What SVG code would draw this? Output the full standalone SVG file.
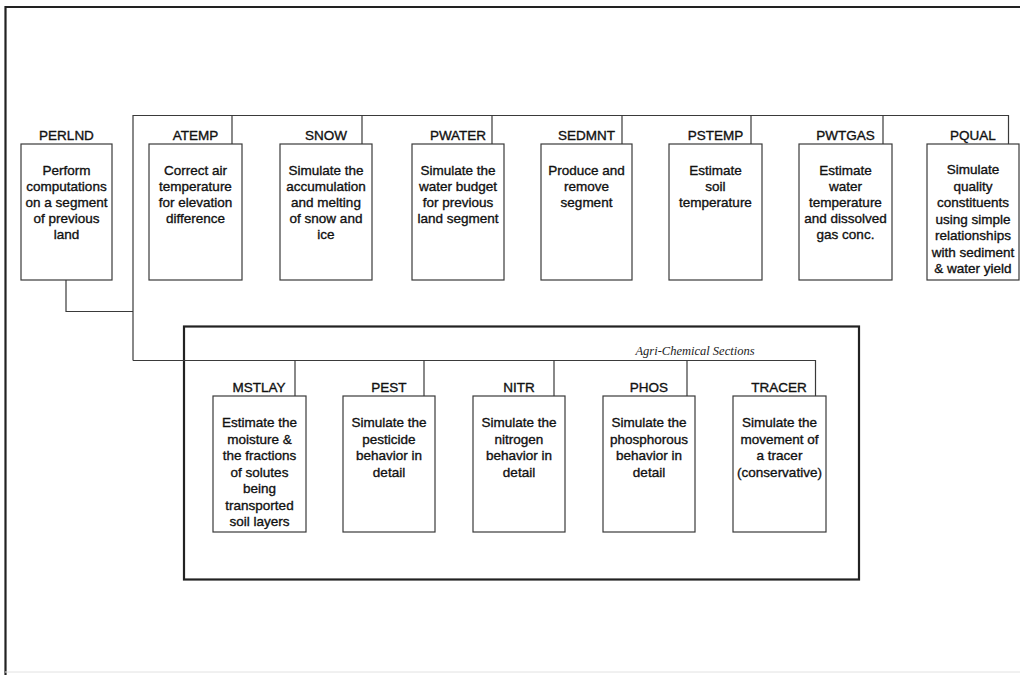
<svg xmlns="http://www.w3.org/2000/svg" width="1020" height="675" viewBox="0 0 1020 675">
  <style>
    .box { fill: #ffffff; stroke: #3a3a3a; stroke-width: 1.2; }
    .wire { fill: none; stroke: #3a3a3a; stroke-width: 1.2; }
    .frame { fill: none; stroke: #222222; stroke-width: 2.2; }
    .title { font-family: "Liberation Sans", Arial, sans-serif; font-size: 13.5px; fill: #111; stroke: #111; stroke-width: 0.35; text-anchor: middle; }
    .body { font-family: "Liberation Sans", Arial, sans-serif; font-size: 13.5px; fill: #111; stroke: #111; stroke-width: 0.35; text-anchor: middle; }
    .caption { font-family: "Liberation Serif", "Times New Roman", serif; font-style: italic; font-size: 12.5px; fill: #222; text-anchor: middle; }
  </style>

  <rect width="1020" height="675" fill="#ffffff"/>

  <!-- outer page frame -->
  <path class="frame" d="M1020 7 H5.5 V675"/>
  <line x1="5" y1="672" x2="1020" y2="672" stroke="#e2e2e2" stroke-width="1"/>

  <!-- agri-chemical sections frame -->
  <rect class="frame" x="184" y="326.5" width="675" height="253"/>
  <text class="caption" x="695" y="355">Agri-Chemical Sections</text>

  <!-- connectors -->
  <g id="connectors">
    <!-- main bus -->
    <path class="wire" d="M133 360.5 V115.5 H1008.5 V144"/>
    <path class="wire" d="M232 115.5 V144"/>
    <path class="wire" d="M362 115.5 V144"/>
    <path class="wire" d="M492 115.5 V144"/>
    <path class="wire" d="M622 115.5 V144"/>
    <path class="wire" d="M751 115.5 V144"/>
    <path class="wire" d="M883 115.5 V144"/>
    <!-- PERLND link -->
    <path class="wire" d="M66 280 V311.5 H133"/>
    <!-- agri-chemical bus -->
    <path class="wire" d="M133 360.5 H815.5 V396"/>
    <path class="wire" d="M295 360.5 V396"/>
    <path class="wire" d="M424 360.5 V396"/>
    <path class="wire" d="M554 360.5 V396"/>
    <path class="wire" d="M687 360.5 V396"/>
  </g>

  <g id="PERLND">
    <text class="title" x="66.5" y="140">PERLND</text>
    <rect class="box" x="21" y="144" width="91" height="136"/>
    <text class="body" x="66.5" y="175">Perform</text>
    <text class="body" x="66.5" y="191">computations</text>
    <text class="body" x="66.5" y="207">on a segment</text>
    <text class="body" x="66.5" y="223">of previous</text>
    <text class="body" x="66.5" y="239">land</text>
  </g>

  <g id="ATEMP">
    <text class="title" x="195.5" y="140">ATEMP</text>
    <rect class="box" x="149" y="144" width="93" height="136"/>
    <text class="body" x="195.5" y="175">Correct air</text>
    <text class="body" x="195.5" y="191">temperature</text>
    <text class="body" x="195.5" y="207">for elevation</text>
    <text class="body" x="195.5" y="223">difference</text>
  </g>

  <g id="SNOW">
    <text class="title" x="326" y="140">SNOW</text>
    <rect class="box" x="280" y="144" width="92" height="136"/>
    <text class="body" x="326" y="175">Simulate the</text>
    <text class="body" x="326" y="191">accumulation</text>
    <text class="body" x="326" y="207">and melting</text>
    <text class="body" x="326" y="223">of snow and</text>
    <text class="body" x="326" y="239">ice</text>
  </g>

  <g id="PWATER">
    <text class="title" x="458" y="140">PWATER</text>
    <rect class="box" x="412" y="144" width="92" height="136"/>
    <text class="body" x="458" y="175">Simulate the</text>
    <text class="body" x="458" y="191">water budget</text>
    <text class="body" x="458" y="207">for previous</text>
    <text class="body" x="458" y="223">land segment</text>
  </g>

  <g id="SEDMNT">
    <text class="title" x="586.5" y="140">SEDMNT</text>
    <rect class="box" x="541" y="144" width="91" height="136"/>
    <text class="body" x="586.5" y="175">Produce and</text>
    <text class="body" x="586.5" y="191">remove</text>
    <text class="body" x="586.5" y="207">segment</text>
  </g>

  <g id="PSTEMP">
    <text class="title" x="715.5" y="140">PSTEMP</text>
    <rect class="box" x="669" y="144" width="93" height="136"/>
    <text class="body" x="715.5" y="175">Estimate</text>
    <text class="body" x="715.5" y="191">soil</text>
    <text class="body" x="715.5" y="207">temperature</text>
  </g>

  <g id="PWTGAS">
    <text class="title" x="845.5" y="140">PWTGAS</text>
    <rect class="box" x="799" y="144" width="93" height="136"/>
    <text class="body" x="845.5" y="175">Estimate</text>
    <text class="body" x="845.5" y="191">water</text>
    <text class="body" x="845.5" y="207">temperature</text>
    <text class="body" x="845.5" y="223">and dissolved</text>
    <text class="body" x="845.5" y="239">gas conc.</text>
  </g>

  <g id="PQUAL">
    <text class="title" x="973" y="140">PQUAL</text>
    <rect class="box" x="927" y="144" width="92" height="136"/>
    <text class="body" x="973" y="174">Simulate</text>
    <text class="body" x="973" y="190.5">quality</text>
    <text class="body" x="973" y="207">constituents</text>
    <text class="body" x="973" y="223.5">using simple</text>
    <text class="body" x="973" y="240">relationships</text>
    <text class="body" x="973" y="256.5">with sediment</text>
    <text class="body" x="973" y="273">&amp; water yield</text>
  </g>

  <g id="MSTLAY">
    <text class="title" x="259" y="392">MSTLAY</text>
    <rect class="box" x="213" y="396" width="93" height="136"/>
    <text class="body" x="259.5" y="427">Estimate the</text>
    <text class="body" x="259.5" y="443.5">moisture &amp;</text>
    <text class="body" x="259.5" y="460">the fractions</text>
    <text class="body" x="259.5" y="476.5">of solutes</text>
    <text class="body" x="259.5" y="493">being</text>
    <text class="body" x="259.5" y="509.5">transported</text>
    <text class="body" x="259.5" y="526">soil layers</text>
  </g>

  <g id="PEST">
    <text class="title" x="389" y="392">PEST</text>
    <rect class="box" x="343" y="396" width="92" height="136"/>
    <text class="body" x="389" y="427">Simulate the</text>
    <text class="body" x="389" y="443.5">pesticide</text>
    <text class="body" x="389" y="460">behavior in</text>
    <text class="body" x="389" y="476.5">detail</text>
  </g>

  <g id="NITR">
    <text class="title" x="519" y="392">NITR</text>
    <rect class="box" x="473" y="396" width="92" height="136"/>
    <text class="body" x="519" y="427">Simulate the</text>
    <text class="body" x="519" y="443.5">nitrogen</text>
    <text class="body" x="519" y="460">behavior in</text>
    <text class="body" x="519" y="476.5">detail</text>
  </g>

  <g id="PHOS">
    <text class="title" x="649" y="392">PHOS</text>
    <rect class="box" x="603" y="396" width="92" height="136"/>
    <text class="body" x="649" y="427">Simulate the</text>
    <text class="body" x="649" y="443.5">phosphorous</text>
    <text class="body" x="649" y="460">behavior in</text>
    <text class="body" x="649" y="476.5">detail</text>
  </g>

  <g id="TRACER">
    <text class="title" x="779" y="392">TRACER</text>
    <rect class="box" x="733" y="396" width="93" height="136"/>
    <text class="body" x="779.5" y="427">Simulate the</text>
    <text class="body" x="779.5" y="443.5">movement of</text>
    <text class="body" x="779.5" y="460">a tracer</text>
    <text class="body" x="779.5" y="476.5">(conservative)</text>
  </g>
</svg>
